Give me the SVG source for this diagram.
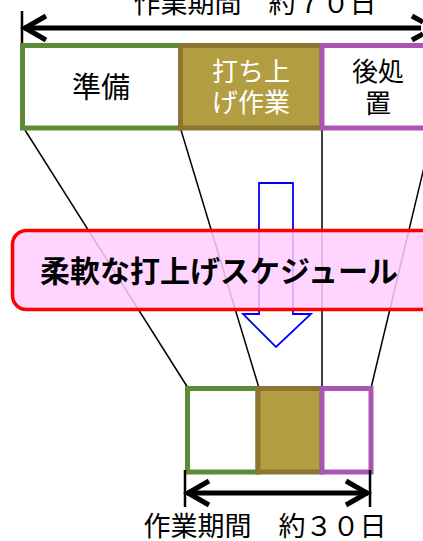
<svg xmlns="http://www.w3.org/2000/svg" width="423" height="541" viewBox="0 0 423 541">
<style>
.jp{font-family:"Noto Sans CJK JP","Noto Sans",sans-serif;}
.conn{stroke:#000;stroke-width:1.5;fill:none;}
.g{fill:#fff;stroke:#5E8B38;stroke-width:5;}
.o{fill:#B39D42;stroke:#8A7631;stroke-width:5;}
.p{fill:#fff;stroke:#A956B1;stroke-width:5;}
.dim{stroke:#000;stroke-width:5;fill:none;}
.tick{stroke:#000;stroke-width:2.5;}
</style>
<rect width="423" height="541" fill="#fff"/>
<g id="connectors">
<line class="conn" x1="25" y1="130" x2="188" y2="388"/>
<line class="conn" x1="181" y1="130" x2="259" y2="388"/>
<line class="conn" x1="322" y1="130" x2="322" y2="388"/>
<line class="conn" x1="433" y1="130" x2="371" y2="388"/>
</g>
<g id="top-dimension">
<line class="tick" x1="22" y1="11" x2="22" y2="46"/>
<line class="dim" x1="24" y1="28" x2="421" y2="28"/>
<polyline class="dim" points="46,16 25,28 46,40"/>
<polyline class="dim" points="412,16 423,22"/>
<polyline class="dim" points="412,40 423,34"/>
<text class="jp" x="255" y="13" font-size="27" text-anchor="middle" fill="#000">作業期間　約７０日</text>
</g>
<g id="prep-top">
<rect class="g" x="22.5" y="45.5" width="158" height="82.5"/>
<text class="jp" x="101" y="98" font-size="29" text-anchor="middle" fill="#000">準備</text>
</g>
<g id="launch-top">
<rect class="o" x="180.5" y="45.5" width="141.5" height="82.5"/>
<text class="jp" x="251" y="81" font-size="26" text-anchor="middle" fill="#fff">打ち上</text>
<text class="jp" x="251" y="112" font-size="26" text-anchor="middle" fill="#fff">げ作業</text>
</g>
<g id="post-top">
<rect class="p" x="322" y="45.5" width="120" height="82.5"/>
<text class="jp" x="378" y="81" font-size="26" text-anchor="middle" fill="#000">後処</text>
<text class="jp" x="378" y="113" font-size="26" text-anchor="middle" fill="#000">置</text>
</g>
<g id="arrow-down">
<polygon points="259,183 293,183 293,314 311,314 276,347 243,314 259,314" fill="none" stroke="#0000FF" stroke-width="1.8"/>
</g>
<g id="flex-label">
<rect x="12.5" y="230.5" width="430" height="79" rx="14" ry="14" fill="#FFCCFF" fill-opacity="0.85" stroke="#FF0000" stroke-width="3.5"/>
<text class="jp" x="219" y="282" font-size="30" font-weight="bold" text-anchor="middle" fill="#000">柔軟な打上げスケジュール</text>
</g>
<g id="prep-bottom">
<rect class="g" x="187.5" y="388.5" width="70.5" height="83.5"/>
</g>
<g id="launch-bottom">
<rect class="o" x="258" y="388.5" width="64" height="83.5"/>
</g>
<g id="post-bottom">
<rect class="p" x="322" y="388.5" width="49" height="83.5"/>
</g>
<g id="bottom-dimension">
<line class="tick" x1="185" y1="470" x2="185" y2="507"/>
<line class="tick" x1="370" y1="470" x2="370" y2="507"/>
<line class="dim" x1="187" y1="493" x2="368" y2="493"/>
<polyline class="dim" points="209,481 188,493 209,505"/>
<polyline class="dim" points="346,481 367,493 346,505"/>
<text class="jp" x="265" y="536" font-size="27" text-anchor="middle" fill="#000">作業期間　約３０日</text>
</g>
</svg>
